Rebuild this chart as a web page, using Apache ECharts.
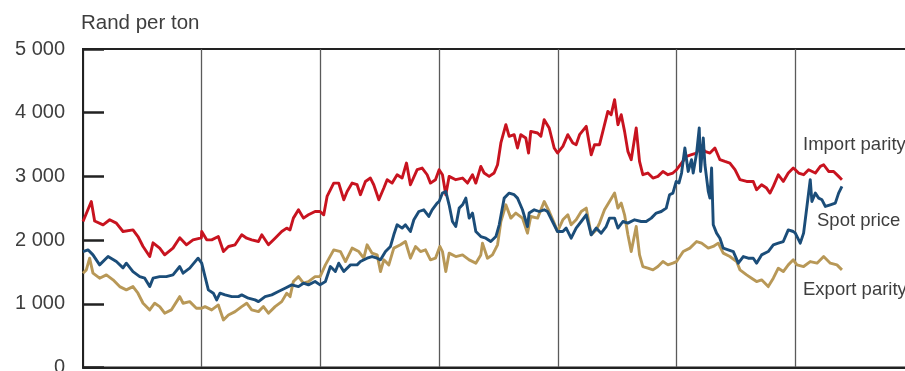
<!DOCTYPE html>
<html>
<head>
<meta charset="utf-8">
<script src="https://cdn.jsdelivr.net/npm/echarts@6/dist/echarts.min.js"></script>
<style>html,body{margin:0;padding:0;background:#fff;}#c{width:905px;height:371px;}</style>
</head>
<body>
<div id="c"></div>
<script>
// x = decimal year, y = Rand per ton
const yTickLabels = ['0', '1 000', '2 000', '3 000', '4 000', '5 000'];
const seriesNames = ['Import parity', 'Spot price', 'Export parity'];

const importParity = [
[2010.000,2292],[2010.070,2606],[2010.098,2300],[2010.169,2240],[2010.225,2319],[2010.281,2267],[2010.337,2135],[2010.421,2160],[2010.463,2056],[2010.506,1900],[2010.562,1742],[2010.590,1957],[2010.646,1874],[2010.688,1769],[2010.758,1874],[2010.815,2036],[2010.871,1926],[2010.927,2004],[2010.997,2036],
[2011.000,2135],[2011.042,2004],[2011.084,2004],[2011.140,2056],[2011.183,1820],[2011.225,1900],[2011.281,1926],[2011.337,2083],[2011.379,2030],[2011.421,2004],[2011.478,1978],[2011.506,2083],[2011.562,1926],[2011.618,2030],[2011.674,2135],[2011.716,2188],[2011.744,2160],[2011.772,2345],[2011.815,2476],[2011.857,2345],[2011.899,2397],[2011.955,2449],[2011.997,2449],
[2012.028,2397],[2012.056,2685],[2012.112,2895],[2012.154,2895],[2012.197,2633],[2012.225,2764],[2012.267,2895],[2012.309,2869],[2012.337,2712],[2012.379,2921],[2012.421,2974],[2012.449,2869],[2012.492,2633],[2012.534,2817],[2012.562,2948],[2012.604,2895],[2012.646,3026],[2012.688,2974],[2012.725,3210],[2012.758,2869],[2012.815,3105],[2012.857,3131],[2012.899,3026],[2012.927,2895],[2012.969,2948],
[2013.000,3105],[2013.028,3026],[2013.056,2712],[2013.084,3000],[2013.140,2948],[2013.197,2974],[2013.239,2895],[2013.281,3026],[2013.309,2895],[2013.351,3157],[2013.379,3053],[2013.421,3000],[2013.463,3053],[2013.492,3183],[2013.520,3525],[2013.562,3812],[2013.590,3629],[2013.632,3655],[2013.660,3446],[2013.688,3655],[2013.730,3603],[2013.753,3367],[2013.772,3707],[2013.829,3681],[2013.857,3629],[2013.885,3891],[2013.927,3760],[2013.969,3446],[2013.997,3367],
[2014.042,3471],[2014.084,3655],[2014.126,3524],[2014.154,3498],[2014.183,3655],[2014.239,3786],[2014.281,3340],[2014.309,3498],[2014.351,3498],[2014.379,3707],[2014.421,4021],[2014.449,3969],[2014.478,4205],[2014.506,3812],[2014.534,3969],[2014.562,3707],[2014.590,3393],[2014.618,3262],[2014.660,3760],[2014.688,3235],[2014.716,3026],[2014.758,3053],[2014.801,2974],[2014.843,3000],[2014.885,3078],[2014.927,3026],[2014.969,3053],
[2015.000,3105],[2015.042,3210],[2015.084,3314],[2015.126,3340],[2015.169,3367],[2015.197,3498],[2015.239,3393],[2015.281,3367],[2015.323,3446],[2015.365,3262],[2015.407,3235],[2015.449,3210],[2015.492,3105],[2015.534,2948],[2015.590,2921],[2015.646,2921],[2015.674,2790],[2015.716,2869],[2015.758,2817],[2015.787,2738],[2015.815,2843],[2015.857,3026],[2015.899,2921],[2015.941,3053],[2015.983,3131],
[2016.000,3105],[2016.028,3053],[2016.070,3026],[2016.112,3105],[2016.169,3053],[2016.211,3157],[2016.239,3183],[2016.281,3078],[2016.323,3078],[2016.365,3000],[2016.393,2948]
];

const spotPrice = [
[2010.000,1820],[2010.042,1847],[2010.084,1768],[2010.140,1611],[2010.211,1742],[2010.281,1663],[2010.337,1564],[2010.365,1638],[2010.421,1506],[2010.478,1427],[2010.520,1402],[2010.562,1270],[2010.590,1402],[2010.646,1427],[2010.702,1427],[2010.758,1454],[2010.815,1585],[2010.843,1481],[2010.899,1559],[2010.969,1716],
[2011.000,1638],[2011.028,1427],[2011.056,1218],[2011.098,1166],[2011.126,1061],[2011.154,1166],[2011.197,1140],[2011.253,1113],[2011.309,1113],[2011.337,1140],[2011.393,1088],[2011.449,1061],[2011.478,1034],[2011.534,1113],[2011.590,1140],[2011.646,1192],[2011.702,1245],[2011.758,1297],[2011.815,1270],[2011.857,1323],[2011.899,1297],[2011.955,1349],[2011.997,1297],
[2012.010,1270],[2012.042,1349],[2012.084,1585],[2012.126,1506],[2012.154,1638],[2012.197,1506],[2012.253,1611],[2012.309,1611],[2012.337,1663],[2012.393,1716],[2012.435,1742],[2012.478,1716],[2012.506,1690],[2012.548,1820],[2012.590,1900],[2012.618,2083],[2012.646,2240],[2012.688,2188],[2012.716,2240],[2012.758,2135],[2012.787,2319],[2012.829,2449],[2012.871,2476],[2012.913,2371],[2012.941,2476],[2012.983,2581],
[2013.000,2606],[2013.028,2738],[2013.056,2764],[2013.084,2554],[2013.112,2292],[2013.140,2213],[2013.169,2502],[2013.197,2554],[2013.225,2659],[2013.253,2345],[2013.281,2424],[2013.309,2135],[2013.351,2056],[2013.393,2030],[2013.435,1978],[2013.478,2056],[2013.506,2240],[2013.548,2659],[2013.590,2738],[2013.632,2712],[2013.660,2659],[2013.702,2476],[2013.744,2213],[2013.758,2424],[2013.801,2476],[2013.843,2449],[2013.885,2476],[2013.913,2449],[2013.955,2292],[2013.997,2135],
[2014.042,2135],[2014.070,2188],[2014.112,2030],[2014.154,2188],[2014.197,2292],[2014.239,2397],[2014.281,2083],[2014.323,2188],[2014.365,2109],[2014.407,2213],[2014.435,2345],[2014.478,2345],[2014.506,2188],[2014.548,2292],[2014.590,2267],[2014.646,2319],[2014.702,2292],[2014.744,2292],[2014.787,2345],[2014.829,2424],[2014.871,2449],[2014.913,2502],[2014.941,2712],[2014.969,2738],[2014.997,2921],
[2015.020,2895],[2015.042,3053],[2015.070,3446],[2015.098,3078],[2015.126,3262],[2015.140,3053],[2015.169,3367],[2015.191,3760],[2015.202,3078],[2015.225,3603],[2015.239,3183],[2015.267,2764],[2015.281,2659],[2015.295,3131],[2015.309,2240],[2015.337,2109],[2015.365,2030],[2015.393,1874],[2015.435,1847],[2015.478,1820],[2015.520,1638],[2015.562,1742],[2015.604,1716],[2015.646,1716],[2015.674,1638],[2015.716,1768],[2015.772,1820],[2015.815,1926],[2015.857,1952],[2015.899,1978],[2015.941,2160],[2015.983,2135],
[2016.000,2109],[2016.042,1952],[2016.070,2109],[2016.098,2528],[2016.126,2948],[2016.140,2606],[2016.169,2738],[2016.197,2659],[2016.225,2633],[2016.253,2528],[2016.295,2554],[2016.337,2581],[2016.365,2738],[2016.393,2843]
];

const exportParity = [
[2010.000,1481],[2010.028,1533],[2010.056,1716],[2010.084,1481],[2010.140,1402],[2010.197,1454],[2010.253,1376],[2010.309,1270],[2010.365,1218],[2010.421,1270],[2010.463,1166],[2010.506,1009],[2010.562,904],[2010.604,1009],[2010.646,956],[2010.688,852],[2010.744,904],[2010.815,1113],[2010.843,1009],[2010.899,1034],[2010.955,930],[2011.000,930],
[2011.028,956],[2011.084,904],[2011.140,982],[2011.183,747],[2011.225,825],[2011.281,877],[2011.337,956],[2011.379,1009],[2011.421,904],[2011.478,877],[2011.520,956],[2011.562,852],[2011.618,956],[2011.674,1034],[2011.716,1166],[2011.744,1113],[2011.772,1349],[2011.815,1427],[2011.857,1323],[2011.899,1349],[2011.955,1427],[2011.997,1427],
[2012.010,1402],[2012.042,1611],[2012.112,1847],[2012.169,1820],[2012.211,1663],[2012.267,1874],[2012.323,1820],[2012.365,1716],[2012.393,1926],[2012.435,1795],[2012.478,1768],[2012.506,1506],[2012.534,1690],[2012.576,1611],[2012.618,1874],[2012.674,1926],[2012.716,1978],[2012.758,1716],[2012.801,1900],[2012.843,1820],[2012.885,1847],[2012.927,1690],[2012.969,1716],
[2013.006,1900],[2013.028,1820],[2013.056,1506],[2013.084,1795],[2013.140,1742],[2013.197,1768],[2013.253,1690],[2013.309,1638],[2013.351,1768],[2013.365,1952],[2013.407,1716],[2013.449,1768],[2013.492,1926],[2013.520,2292],[2013.562,2554],[2013.604,2345],[2013.646,2424],[2013.702,2345],[2013.744,2109],[2013.772,2371],[2013.829,2345],[2013.885,2606],[2013.927,2449],[2013.969,2267],[2013.997,2135],
[2014.042,2319],[2014.084,2397],[2014.112,2240],[2014.154,2319],[2014.197,2449],[2014.239,2502],[2014.281,2083],[2014.323,2160],[2014.351,2267],[2014.393,2476],[2014.435,2606],[2014.478,2738],[2014.506,2502],[2014.534,2581],[2014.562,2397],[2014.590,2083],[2014.618,1820],[2014.660,2213],[2014.688,1768],[2014.716,1585],[2014.758,1559],[2014.801,1533],[2014.843,1585],[2014.885,1663],[2014.927,1611],[2014.969,1638],
[2015.000,1663],[2015.056,1820],[2015.112,1874],[2015.169,1978],[2015.211,1952],[2015.267,1874],[2015.309,1900],[2015.351,1952],[2015.393,1795],[2015.449,1742],[2015.506,1663],[2015.534,1533],[2015.590,1454],[2015.632,1402],[2015.674,1349],[2015.716,1376],[2015.772,1270],[2015.815,1402],[2015.857,1559],[2015.899,1506],[2015.941,1611],[2015.983,1690],
[2016.014,1611],[2016.070,1585],[2016.126,1663],[2016.183,1638],[2016.239,1742],[2016.295,1638],[2016.351,1611],[2016.393,1533]
];

const FONT = "'Liberation Sans', Arial, Helvetica, sans-serif";
const chart = echarts.init(document.getElementById('c'), null, {renderer: 'canvas'});

function lineSeries(name, data, color, z) {
  return {
    name: name, type: 'line', data: data, showSymbol: false, symbol: 'none',
    smooth: false, z: z, animation: false,
    lineStyle: {color: color, width: 2.9, join: 'round'}
  };
}

chart.setOption({
  animation: false,
  backgroundColor: '#ffffff',
  grid: {
    left: 83, top: 49, width: 831, height: 318.5,
    containLabel: false, outerBoundsMode: 'none',
    show: true, borderColor: '#222222', borderWidth: 2, backgroundColor: 'transparent'
  },
  xAxis: {
    type: 'value', min: 2010, max: 2017, interval: 1,
    axisLine: {show: true, lineStyle: {color: '#222222', width: 2}},
    axisTick: {show: false},
    axisLabel: {show: false},
    splitLine: {show: true, lineStyle: {color: '#5a5a5a', width: 1.3}}
  },
  yAxis: {
    type: 'value', min: 0, max: 5000, interval: 1000,
    axisLine: {show: true, lineStyle: {color: '#222222', width: 2}},
    axisTick: {show: true, inside: true, length: 21, lineStyle: {color: '#222222', width: 2.5}},
    axisLabel: {
      margin: 18, fontSize: 20, color: '#3e3e3e', fontFamily: FONT,
      formatter: function (v) { return yTickLabels[Math.round(v / 1000)]; }
    },
    splitLine: {show: false}
  },
  graphic: [
    {type: 'text', left: 81, top: 13, style: {text: 'Rand per ton', fontSize: 20.5, fill: '#3e3e3e', fontFamily: FONT}},
    {type: 'text', x: 803, y: 145, style: {text: seriesNames[0], fontSize: 18.5, fill: '#3e3e3e', fontFamily: FONT, textVerticalAlign: 'middle'}},
    {type: 'text', x: 817, y: 221, style: {text: seriesNames[1], fontSize: 18.5, fill: '#3e3e3e', fontFamily: FONT, textVerticalAlign: 'middle'}},
    {type: 'text', x: 803, y: 290, style: {text: seriesNames[2], fontSize: 18.5, fill: '#3e3e3e', fontFamily: FONT, textVerticalAlign: 'middle'}}
  ],
  series: [
    lineSeries(seriesNames[2], exportParity, '#b89857', 2),
    lineSeries(seriesNames[0], importParity, '#c8131f', 3),
    lineSeries(seriesNames[1], spotPrice, '#1b4d79', 4)
  ]
});
</script>
</body>
</html>
